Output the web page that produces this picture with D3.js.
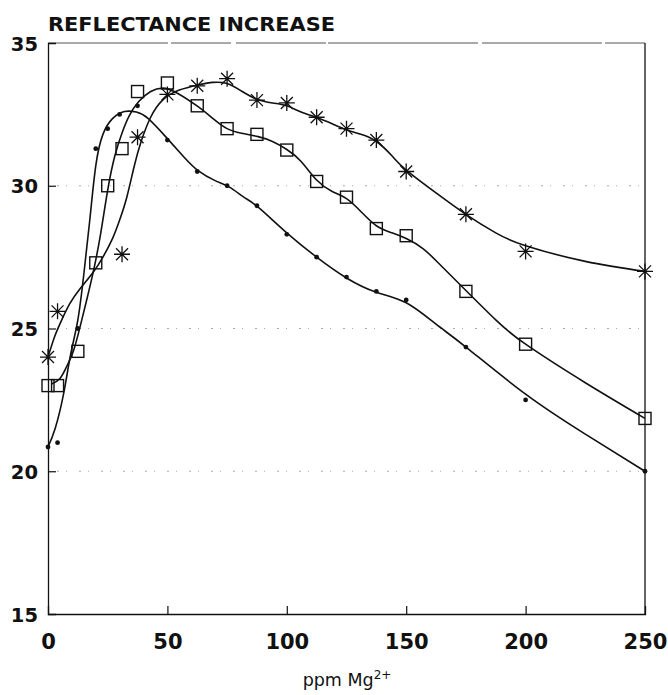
<!DOCTYPE html>
<html>
<head>
<meta charset="utf-8">
<script src="https://cdn.jsdelivr.net/npm/d3@7"></script>
<style>
  body { margin: 0; background: #fff; }
  text { font-family: "DejaVu Sans", sans-serif; fill: #111; }
</style>
</head>
<body>
<div id="app"></div>
<script>
const w = 668;
const h = 695;
const margin = {top: 43, right: 23, bottom: 81, left: 48};

const xTicks = [0, 50, 100, 150, 200, 250];
const yTicks = [15, 20, 25, 30, 35];

// measured points (ppm Mg2+, reflectance increase)
const dotsX = [0, 4, 12.5, 20, 25, 30, 37.5, 50, 62.5, 75, 87.5, 100, 112.5, 125, 137.5, 150, 175, 200, 250];
const dotsY = [20.85, 21.0, 25.0, 31.3, 32.0, 32.5, 32.8, 31.6, 30.5, 30.0, 29.3, 28.3, 27.5, 26.8, 26.3, 26.0, 24.35, 22.5, 20.0];

const squaresX = [0, 4, 12.5, 20, 25, 31, 37.5, 50, 62.5, 75, 87.5, 100, 112.5, 125, 137.5, 150, 175, 200, 250];
const squaresY = [23.0, 23.0, 24.2, 27.3, 30.0, 31.3, 33.3, 33.6, 32.8, 32.0, 31.8, 31.25, 30.15, 29.6, 28.5, 28.25, 26.3, 24.45, 21.85];

const starsX = [0, 4, 31, 37.5, 50, 62.5, 75, 87.5, 100, 112.5, 125, 137.5, 150, 175, 200, 250];
const starsY = [24.0, 25.6, 27.6, 31.7, 33.2, 33.5, 33.75, 33.0, 32.9, 32.4, 32.0, 31.6, 30.5, 29.0, 27.7, 27.0];

// fitted curves
const dotsFit = [[0,20.85],[3,21.5],[6.5,22.7],[9.5,24.1],[12.5,25.3],[15,26.9],[17.5,28.8],[20,30.7],[23,31.8],[27,32.35],[32,32.6],[37,32.58],[42,32.35],[50,31.65],[57,31.0],[63,30.52],[70,30.18],[76,29.95],[82,29.6],[88,29.25],[100,28.35],[112.5,27.5],[125,26.77],[137.5,26.27],[150,25.9],[162.5,25.15],[175,24.35],[200,22.7],[225,21.3],[250,20.0]];

const squaresFit = [[1.5,23.06],[5,23.25],[8,23.7],[10.6,24.2],[13.4,25.05],[16.2,26.0],[19,27.0],[22,28.3],[25,29.85],[28,31.05],[31,31.85],[34,32.45],[38,32.95],[43,33.3],[48,33.42],[54,33.25],[63,32.76],[69,32.36],[75,32.0],[81,31.84],[88,31.72],[94,31.55],[100,31.27],[106,30.85],[112.5,30.2],[119,29.8],[125,29.55],[131,29.1],[137.5,28.6],[144,28.35],[150,28.15],[157,27.8],[164,27.25],[175,26.33],[187.5,25.3],[200,24.45],[225,23.1],[250,21.85]];

const starsFit = [[0,24.0],[2.5,24.65],[5,25.16],[9,25.85],[13.5,26.4],[19,26.98],[23,27.5],[27,28.15],[30,28.8],[33,29.6],[36,30.65],[39,31.55],[43,32.4],[48,33.0],[55,33.35],[63,33.53],[69,33.62],[75,33.58],[81,33.32],[87.5,33.03],[94,32.9],[100,32.8],[106,32.58],[112.5,32.39],[119,32.17],[125,31.96],[131,31.8],[137.5,31.55],[144,31.05],[150,30.55],[162.5,29.75],[175,29.0],[187.5,28.35],[200,27.9],[225,27.35],[250,27.0]];

const svg = d3.select("#app")
  .append("svg")
  .attr("width", w)
  .attr("height", h)
  .style("display", "block");

const xScale = d3.scaleLinear()
  .domain([0, 250])
  .range([margin.left, w - margin.right]);

const yScale = d3.scaleLinear()
  .domain([15, 35])
  .range([h - margin.bottom, margin.top]);

// dotted grid lines
svg.selectAll(".grid")
  .data(yTicks.filter(d => d > 15 && d < 35))
  .enter()
  .append("line")
  .attr("class", "grid")
  .attr("x1", xScale(0) + 9)
  .attr("x2", xScale(250))
  .attr("y1", d => yScale(d))
  .attr("y2", d => yScale(d))
  .attr("stroke", "#aaa")
  .attr("stroke-width", 1)
  .attr("stroke-dasharray", "2,7,1,12");

// frame
svg.append("line")
  .attr("x1", xScale(0)).attr("x2", xScale(250))
  .attr("y1", yScale(35)).attr("y2", yScale(35))
  .attr("stroke", "#555").attr("stroke-width", 1)
  .attr("stroke-dasharray", "120,3,60,5,90,2,150,4");

svg.append("line")
  .attr("x1", xScale(250)).attr("x2", xScale(250))
  .attr("y1", yScale(35)).attr("y2", yScale(15))
  .attr("stroke", "#111").attr("stroke-width", 1.3);

const xAxis = d3.axisBottom(xScale)
  .tickValues(xTicks)
  .tickSize(-8)
  .tickPadding(20)
  .tickFormat(d3.format("d"));

const yAxis = d3.axisLeft(yScale)
  .tickValues(yTicks)
  .tickSize(-8)
  .tickPadding(10)
  .tickFormat(d3.format("d"));

const gx = svg.append("g")
  .attr("id", "x-axis")
  .attr("transform", "translate(0," + yScale(15) + ")")
  .call(xAxis);

const gy = svg.append("g")
  .attr("id", "y-axis")
  .attr("transform", "translate(" + xScale(0) + ",0)")
  .call(yAxis);

[gx, gy].forEach(g => {
  g.select(".domain").attr("stroke", "#111").attr("stroke-width", 1.3);
  g.selectAll(".tick line").attr("stroke", "#111").attr("stroke-width", 1.2);
  g.selectAll(".tick text")
    .style("font-family", "DejaVu Sans")
    .style("font-weight", "bold")
    .attr("fill", "#111");
});
gx.selectAll(".tick text").style("font-size", "21px");
gy.selectAll(".tick text").style("font-size", "19.5px").attr("dy", "0.36em");
gx.selectAll(".tick").filter(d => d === 0 || d === 250).select("line").remove();
gy.selectAll(".tick").filter(d => d === 15 || d === 35).select("line").remove();

// fitted curves
const line = d3.line()
  .x(d => xScale(d[0]))
  .y(d => yScale(d[1]))
  .curve(d3.curveNatural);

[dotsFit, squaresFit, starsFit].forEach(fit => {
  svg.append("path")
    .datum(fit)
    .attr("d", line)
    .attr("fill", "none")
    .attr("stroke", "#111")
    .attr("stroke-width", 1.6);
});

// markers
svg.selectAll(".dot")
  .data(dotsX.map((x, i) => [x, dotsY[i]]))
  .enter()
  .append("circle")
  .attr("class", "dot")
  .attr("cx", d => xScale(d[0]))
  .attr("cy", d => yScale(d[1]))
  .attr("r", 2.4)
  .attr("fill", "#111");

svg.selectAll(".square")
  .data(squaresX.map((x, i) => [x, squaresY[i]]))
  .enter()
  .append("rect")
  .attr("class", "square")
  .attr("x", d => xScale(d[0]) - 6)
  .attr("y", d => yScale(d[1]) - 6)
  .attr("width", 12)
  .attr("height", 12)
  .attr("fill", "none")
  .attr("stroke", "#111")
  .attr("stroke-width", 1.4);

svg.selectAll(".star")
  .data(starsX.map((x, i) => [x, starsY[i]]))
  .enter()
  .append("path")
  .attr("class", "star")
  .attr("transform", d => "translate(" + xScale(d[0]) + "," + yScale(d[1]) + ")")
  .attr("d", "M0,-8V8M-8,0H8M-6,-6L6,6M-6,6L6,-6")
  .attr("fill", "none")
  .attr("stroke", "#111")
  .attr("stroke-width", 1.3);

// titles
svg.append("text")
  .attr("x", xScale(0))
  .attr("y", 31)
  .style("font-size", "19px")
  .style("font-weight", "bold")
  .attr("textLength", 287)
  .attr("lengthAdjust", "spacingAndGlyphs")
  .text("REFLECTANCE INCREASE");

const xt = svg.append("text")
  .attr("x", 347)
  .attr("y", 686)
  .style("text-anchor", "middle")
  .style("font-size", "17.5px");
xt.append("tspan").text("ppm Mg");
xt.append("tspan").attr("dy", -7).style("font-size", "12px").text("2+");
</script>
</body>
</html>
